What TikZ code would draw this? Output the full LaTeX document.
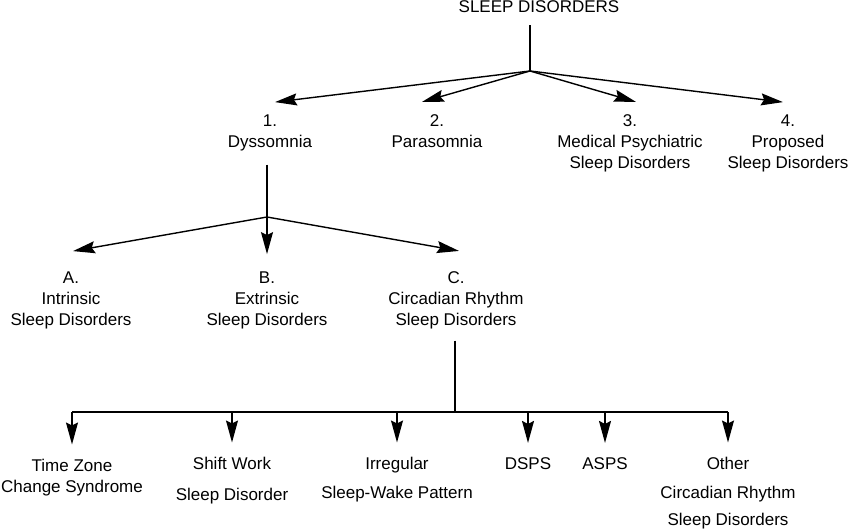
\documentclass[tikz,border=0pt]{standalone}
\usepackage{fontspec}
\setmainfont{Liberation Sans}
\usetikzlibrary{arrows.meta}

\begin{document}
\begin{tikzpicture}[x=1pt,y=-1pt,
  lbl/.style={align=center,anchor=base,inner xsep=0pt,font=\fontsize{17}{21}\selectfont},
  lvlone/.style={lbl,inner ysep=13pt},
  lvltwo/.style={lbl,inner ysep=12pt},
  lvlthree/.style={lbl,inner ysep=14pt},
  ln/.style={line width=1.4pt},
  arr/.style={ln,-{Stealth[length=22pt,width=12pt,inset=3pt]}}]
\useasboundingbox (0,0) rectangle (848,529);
% top
\node [lbl,inner ysep=12pt] (sd) at (539,13) {SLEEP DISORDERS};
\coordinate (j0) at (530,71);
\draw [ln] (sd.south -| j0) -- (j0);
% first level (nodes placed at the baseline of their last line)
\node [lvlone] (d1) at (270,148) {1.\\Dyssomnia};
\node [lvlone] (d2) at (437,148) {2.\\Parasomnia};
\node [lvlone] (d3) at (630,169) {3.\\Medical Psychiatric\\Sleep Disorders};
\node [lvlone] (d4) at (788,169) {4.\\Proposed\\Sleep Disorders};
\draw [arr] (j0) -- ([xshift=5pt]d1.north);
\draw [arr] (j0) -- ([xshift=-15pt]d2.north);
\draw [arr] (j0) -- ([xshift=6pt]d3.north);
\draw [arr] (j0) -- ([xshift=-5pt]d4.north);
% dyssomnia
\coordinate (j1) at (267,217);
\draw [ln] (d1.south -| j1) -- (j1);
\node [lvltwo] (da) at (71,325) {A.\\Intrinsic\\Sleep Disorders};
\node [lvltwo] (db) at (267,325) {B.\\Extrinsic\\Sleep Disorders};
\node [lvltwo] (dc) at (456,325) {C.\\Circadian Rhythm\\Sleep Disorders};
\draw [arr] (j1) -- ([xshift=2pt,yshift=8pt]da.north);
\draw [arr] (j1) -- ([yshift=5pt]db.north);
\draw [arr] (j1) -- ([xshift=3pt,yshift=8pt]dc.north);
% circadian rhythm
\coordinate (j2) at (455,412);
\draw [ln] (dc.south -| j2) -- (j2);
\node [lvlthree] (tz) at (72,492) {Time Zone\\Change Syndrome};
\node [lvlthree] (sw) at (232,500) {Shift Work\\[10pt]Sleep Disorder};
\node [lvlthree] (ir) at (397,498) {Irregular\\[8pt]Sleep-Wake Pattern};
\node [lvlthree] (dsps) at (528,469) {DSPS};
\node [lvlthree] (asps) at (605,469) {ASPS};
\node [lvlthree] (ot) at (728,525) {Other\\[8pt]Circadian Rhythm\\[6pt]Sleep Disorders};
\draw [ln] (tz.north |- j2) -- (ot.north |- j2);
\foreach \n in {tz,sw,ir,dsps,asps,ot}
  \draw [arr] (\n.north |- j2) -- (\n.north);
\end{tikzpicture}
\end{document}
